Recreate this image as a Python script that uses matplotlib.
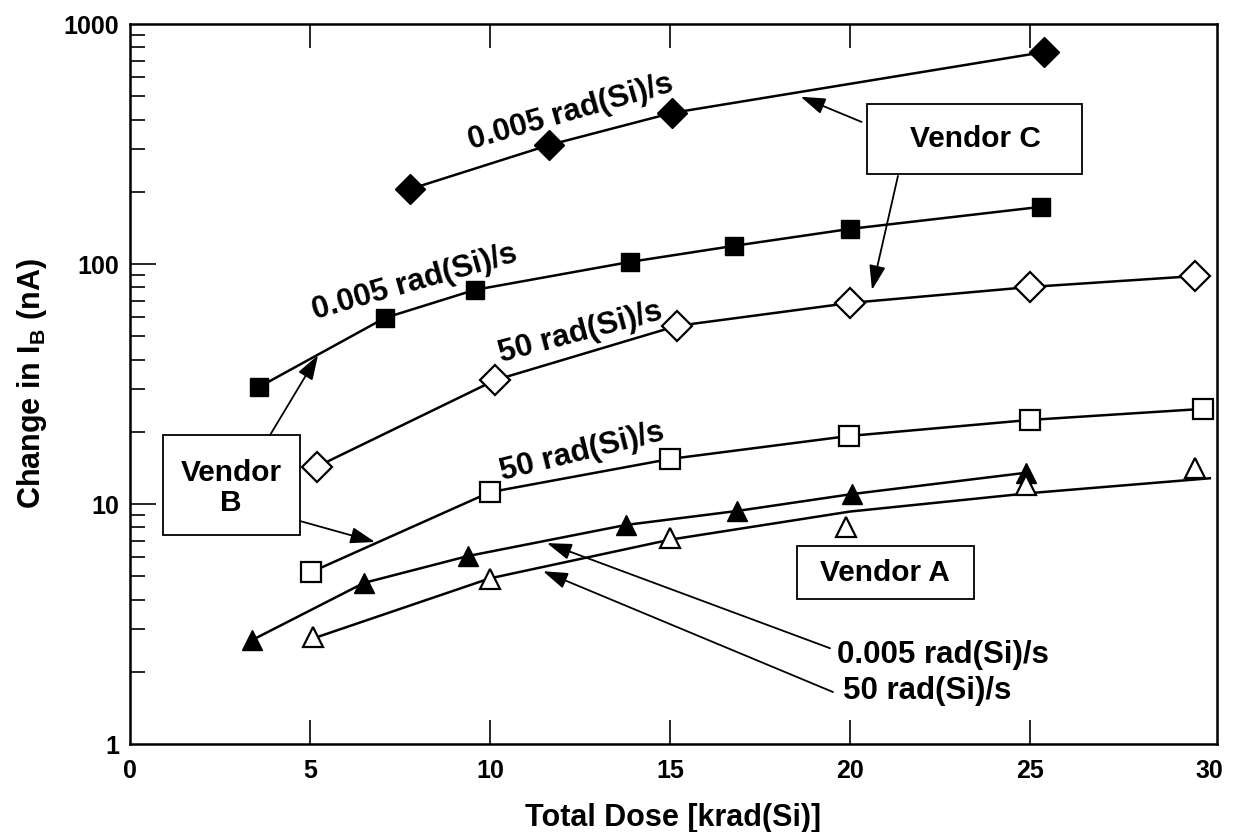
import matplotlib
matplotlib.use("Agg")
import matplotlib.pyplot as plt
from matplotlib.patches import Rectangle
from matplotlib.ticker import FixedLocator, NullFormatter, LogLocator

plt.rcParams['font.family'] = ['Liberation Sans', 'DejaVu Sans']
plt.rcParams['font.weight'] = 'bold'
plt.rcParams['mathtext.fontset'] = 'custom'
plt.rcParams['mathtext.rm'] = 'Liberation Sans:bold'
plt.rcParams['mathtext.it'] = 'Liberation Sans:bold'
plt.rcParams['mathtext.bf'] = 'Liberation Sans:bold'

# ---- data ----
c_slow_x = [7.78, 11.64, 15.06, 25.4]
c_slow_y = [205, 313, 426, 764]

c_fast_x = [5.19, 10.14, 15.19, 20.0, 25.0, 29.6]
c_fast_y = [14.3, 32.8, 55.2, 68.8, 80.2, 89.1]

b_slow_x = [3.58, 7.08, 9.58, 13.89, 16.78, 20.0, 25.3]
b_slow_y = [30.7, 59.6, 78.0, 102, 119, 140, 173]

b_fast_x = [5.03, 10.0, 15.0, 19.97, 25.0, 29.8]
b_fast_y = [5.2, 11.2, 15.4, 19.2, 22.4, 24.9]

a_slow_x = [3.39, 6.5, 9.39, 13.78, 16.86, 20.06, 24.9]
a_slow_y = [2.71, 4.69, 6.07, 8.18, 9.35, 11.0, 13.5]

a_fast_x = [5.08, 10.0, 15.0, 19.9, 24.9, 29.6]
a_fast_y = [2.79, 4.87, 7.21, 8.02, 12.0, 14.1]
# trend line drawn through the Vendor A 50 rad(Si)/s data
a_fast_fit_x = [5.08, 10.0, 15.0, 20.0, 25.0, 30.0]
a_fast_fit_y = [2.75, 4.9, 7.1, 9.3, 11.1, 12.8]

x_ticks = [0, 5, 10, 15, 20, 25, 30]
y_ticks = [1, 10, 100, 1000]
y_tick_labels = ['1', '10', '100', '1000']

# ---- figure ----
fig = plt.figure(figsize=(12.43, 8.32), dpi=100)
ax = fig.add_axes([130/1243, 1-744/832, 1087/1243, 720/832])
ax.set_yscale('log')
ax.set_xlim(0, 30.2)
ax.set_ylim(1, 1000)

lw = 1.8
mew = 1.6
ax.plot(c_slow_x, c_slow_y, '-', color='black', lw=lw, marker='D', ms=15,
        mfc='black', mec='black', zorder=3)
ax.plot(c_fast_x, c_fast_y, '-', color='black', lw=lw, marker='D', ms=15,
        mfc='white', mec='black', mew=mew, zorder=3)
ax.plot(b_slow_x, b_slow_y, '-', color='black', lw=lw, marker='s', ms=13,
        mfc='black', mec='black', zorder=3)
ax.plot(b_fast_x, b_fast_y, '-', color='black', lw=lw, marker='s', ms=14,
        mfc='white', mec='black', mew=mew, zorder=3)
ax.plot(a_slow_x, a_slow_y, '-', color='black', lw=lw, marker='^', ms=15,
        mfc='black', mec='black', zorder=3)
ax.plot(a_fast_fit_x, a_fast_fit_y, '-', color='black', lw=lw, zorder=2)
ax.plot(a_fast_x, a_fast_y, 'none', marker='^', ms=15,
        mfc='white', mec='black', mew=mew, zorder=3)

# ---- axes styling ----
for s in ax.spines.values():
    s.set_linewidth(1.8)
ax.xaxis.set_major_locator(FixedLocator(x_ticks))
ax.set_xticklabels([str(t) for t in x_ticks])
ax.yaxis.set_major_locator(FixedLocator(y_ticks))
ax.set_yticklabels(y_tick_labels)
ax.yaxis.set_minor_locator(LogLocator(base=10, subs=range(2, 10)))
ax.yaxis.set_minor_formatter(NullFormatter())
ax.tick_params(axis='x', which='major', direction='in', top=True, bottom=True,
               length=17, width=1.2, labelsize=18, pad=11)
ax.tick_params(axis='y', which='major', direction='in', left=True, right=False,
               length=19, width=1.2, labelsize=18, pad=8)
ax.tick_params(axis='y', which='minor', direction='in', left=True, right=False,
               length=11, width=1.2)
for lab in ax.get_xticklabels() + ax.get_yticklabels():
    lab.set_fontweight('bold')
# no tick marks where ticks coincide with the frame
xt = ax.xaxis.get_major_ticks()
for t in (xt[0], xt[-1]):
    t.tick1line.set_visible(False)
    t.tick2line.set_visible(False)
yt = ax.yaxis.get_major_ticks()
for t in (yt[0], yt[-1]):
    t.tick1line.set_visible(False)

ax.set_xlabel('Total Dose [krad(Si)]', fontsize=22, fontweight='bold', labelpad=14)
ax.set_ylabel(r'Change in $\mathregular{I_B}$ (nA)', fontsize=22,
              fontweight='bold', labelpad=10)

# ---- inline labels ----
fs = 22.5
tr = ax.transAxes
ax.text(0.4057, 0.8778, '0.005 rad(Si)/s', transform=tr, fontsize=fs,
        rotation=16, ha='center', va='center', rotation_mode='anchor')
ax.text(0.262, 0.6417, '0.005 rad(Si)/s', transform=tr, fontsize=fs,
        rotation=16, ha='center', va='center', rotation_mode='anchor')
ax.text(0.414, 0.571, '50 rad(Si)/s', transform=tr, fontsize=fs,
        rotation=15, ha='center', va='center', rotation_mode='anchor')
ax.text(0.416, 0.4056, '50 rad(Si)/s', transform=tr, fontsize=fs,
        rotation=14, ha='center', va='center', rotation_mode='anchor')
ax.text(0.650, 0.1236, '0.005 rad(Si)/s', transform=tr, fontsize=fs,
        ha='left', va='center')
ax.text(0.656, 0.0736, '50 rad(Si)/s', transform=tr, fontsize=fs,
        ha='left', va='center')

# ---- boxes ----
def box(x0, y0, x1, y1, text, cx, cy):
    ax.add_patch(Rectangle((x0, y0), x1 - x0, y1 - y0, transform=tr,
                           facecolor='white', edgecolor='black', lw=1.3,
                           zorder=4))
    ax.text(cx, cy, text, transform=tr, fontsize=21.5, ha='center',
            va='center', zorder=5, linespacing=1.1)

box(0.678, 0.792, 0.876, 0.889, 'Vendor C', 0.7774, 0.840)
box(0.0304, 0.290, 0.156, 0.429, 'Vendor\nB', 0.093, 0.356)
box(0.614, 0.201, 0.776, 0.275, 'Vendor A', 0.6946, 0.238)

# ---- arrows ----
def arrow(tail, tip):
    ax.annotate('', xy=tip, xytext=tail, xycoords=tr, textcoords=tr,
                arrowprops=dict(arrowstyle='-|>,head_length=0.75,head_width=0.25',
                                color='black', lw=1.3, mutation_scale=20,
                                shrinkA=0, shrinkB=0), zorder=4)

arrow((0.673, 0.864), (0.617, 0.899))
arrow((0.7065, 0.789), (0.6826, 0.6306))
arrow((0.1288, 0.429), (0.173, 0.540))
arrow((0.1564, 0.3097), (0.2254, 0.2806))
arrow((0.644, 0.133), (0.3836, 0.279))
arrow((0.6467, 0.0722), (0.380, 0.240))

fig.savefig('out.png', dpi=100)
